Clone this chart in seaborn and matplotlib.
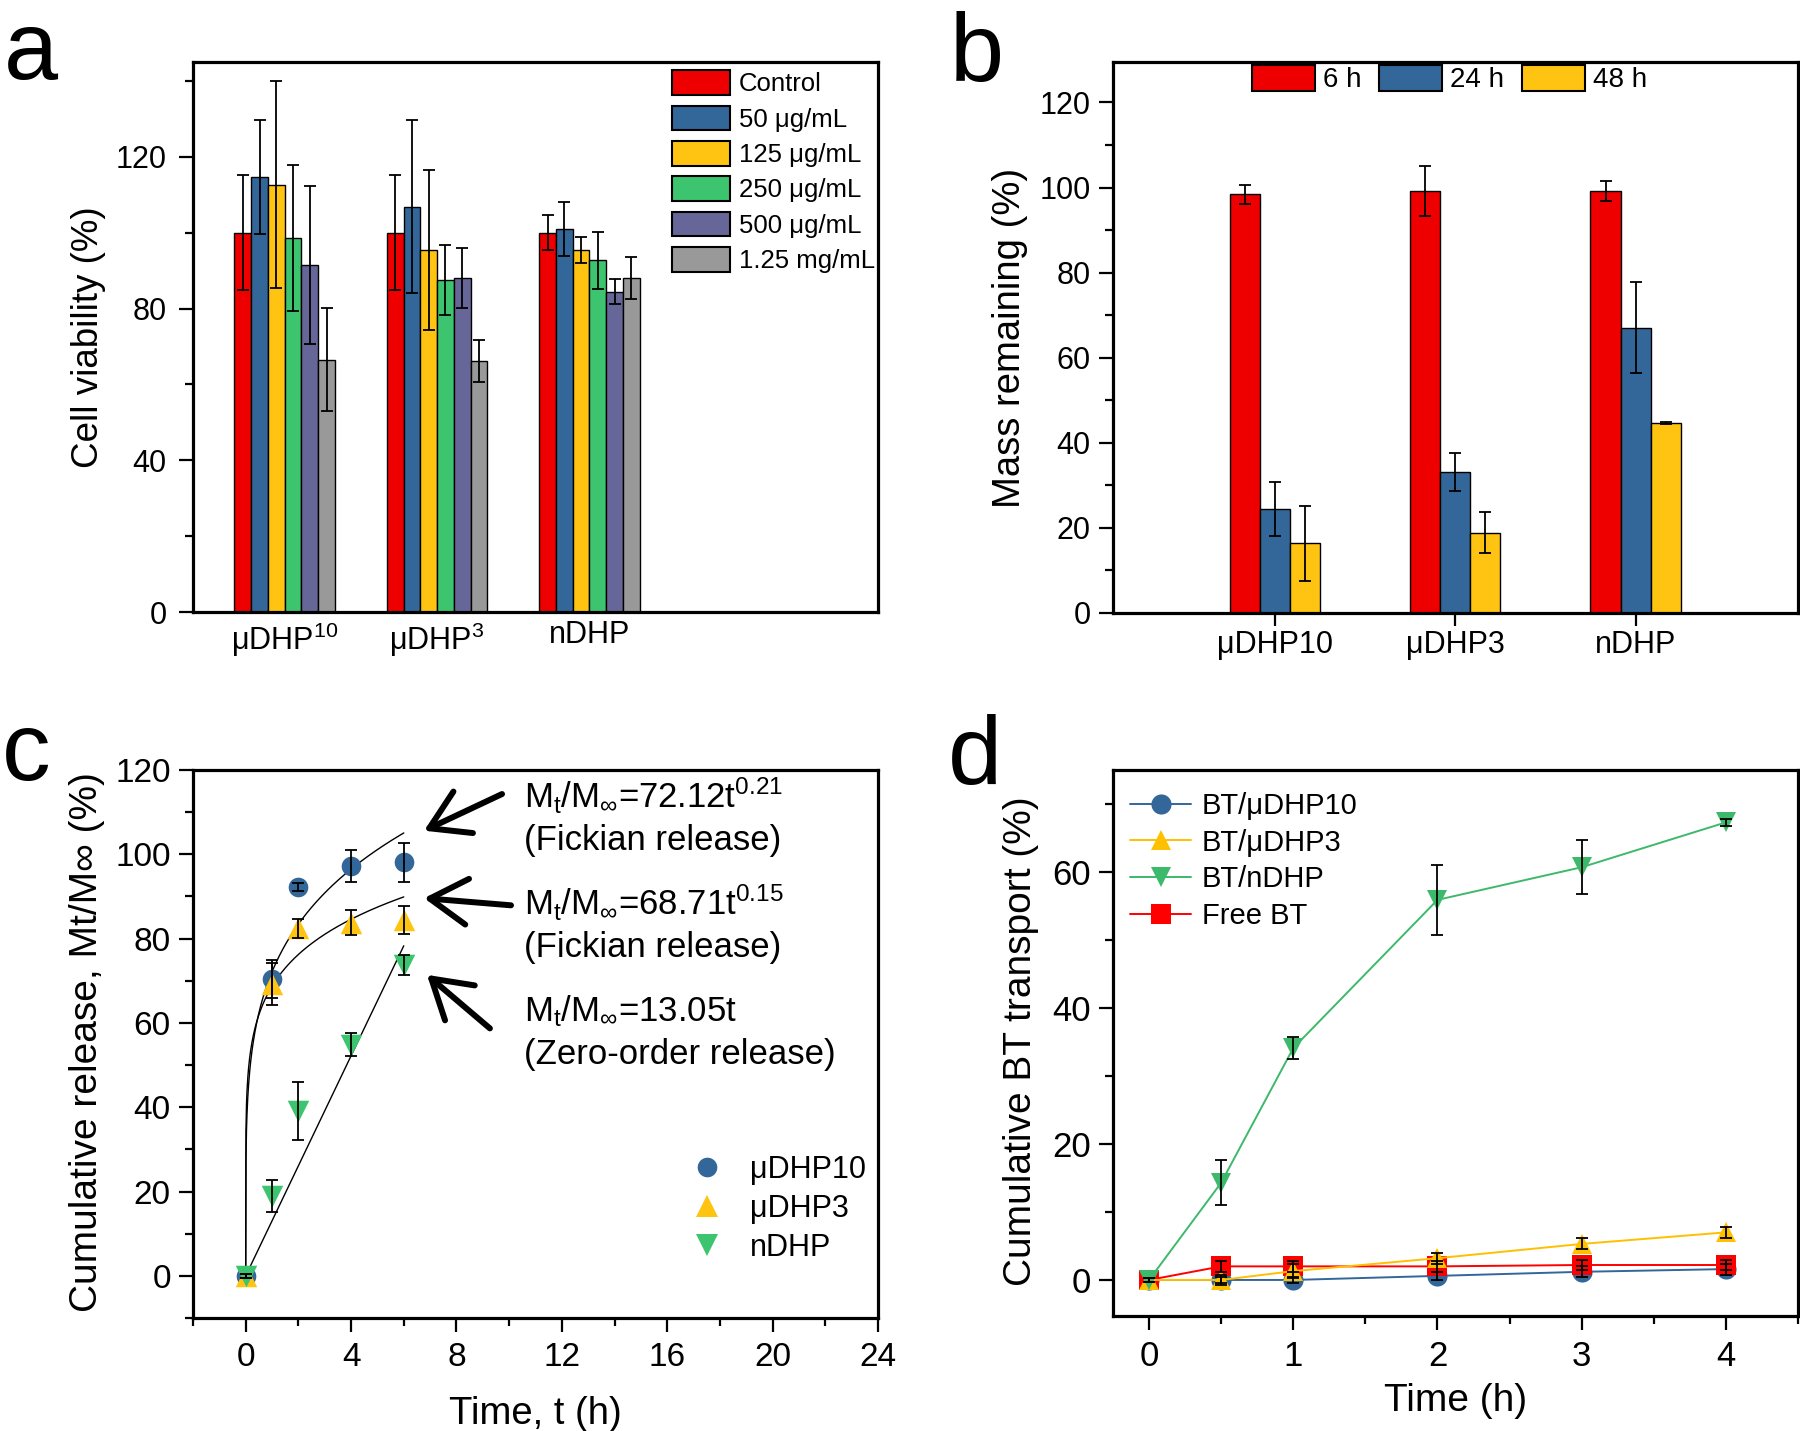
import numpy as np
import pandas as pd
import matplotlib
matplotlib.use('Agg')
import matplotlib.pyplot as plt
import matplotlib.patches as mpatches
from matplotlib.lines import Line2D
from matplotlib.ticker import MultipleLocator
import seaborn as sns

sns.set_theme(style='ticks', rc={'axes.edgecolor': 'black', 'xtick.color': 'black',
                                 'ytick.color': 'black', 'text.color': 'black',
                                 'axes.labelcolor': 'black'})
plt.rcParams['font.family'] = ['Liberation Sans', 'DejaVu Sans']
plt.rcParams['mathtext.fontset'] = 'custom'
plt.rcParams['mathtext.rm'] = 'Liberation Sans'
plt.rcParams['mathtext.it'] = 'Liberation Sans:italic'
plt.rcParams['mathtext.bf'] = 'Liberation Sans:bold'

# ---------------- Panel a data ----------------
a_groups = ['μDHP10', 'μDHP3', 'nDHP']
a_group_labels = ['μDHP$^\\mathregular{10}$', 'μDHP$^\\mathregular{3}$', 'nDHP']
a_conc = ['Control', '50 μg/mL', '125 μg/mL', '250 μg/mL', '500 μg/mL', '1.25 mg/mL']
a_control = [100.0, 100.0, 100.0]
a_control_sd = [15.1, 15.1, 4.6]
a_50 = [114.6, 106.9, 100.9]
a_50_sd = [15.0, 22.7, 7.1]
a_125 = [112.7, 95.4, 95.4]
a_125_sd = [27.3, 21.1, 3.4]
a_250 = [98.6, 87.5, 92.7]
a_250_sd = [19.2, 9.3, 7.5]
a_500 = [91.5, 88.1, 84.4]
a_500_sd = [20.9, 7.9, 3.3]
a_1250 = [66.5, 66.1, 88.0]
a_1250_sd = [13.6, 5.5, 5.5]
a_colors = ['#EE0000', '#336699', '#FFC412', '#3CC46E', '#666699', '#999999']

# ---------------- Panel b data ----------------
b_groups = ['μDHP10', 'μDHP3', 'nDHP']
b_times = ['6 h', '24 h', '48 h']
b_6h = [98.4, 99.2, 99.2]
b_6h_sd = [2.3, 5.9, 2.3]
b_24h = [24.5, 33.2, 67.1]
b_24h_sd = [6.3, 4.5, 10.6]
b_48h = [16.4, 18.9, 44.7]
b_48h_sd = [8.8, 4.9, 0.3]
b_colors = ['#EE0000', '#336699', '#FFC412']

# ---------------- Panel c data ----------------
c_time = [0, 1, 2, 4, 6]
c_udhp10 = [0.0, 70.5, 92.2, 97.2, 98.1]
c_udhp10_sd = [0.5, 4.5, 1.0, 3.8, 4.6]
c_udhp3 = [0.0, 69.2, 82.4, 83.8, 84.4]
c_udhp3_sd = [0.5, 4.9, 2.3, 3.0, 3.3]
c_ndhp = [0.0, 18.9, 39.1, 54.8, 73.8]
c_ndhp_sd = [0.5, 3.8, 6.8, 2.7, 2.4]
# fitted model parameters printed on the chart
fit1_k, fit1_n = 72.12, 0.21
fit2_k, fit2_n = 68.71, 0.15
fit3_k = 13.05

# ---------------- Panel d data ----------------
d_time = [0, 0.5, 1, 2, 3, 4]
d_udhp10 = [0.0, 0.0, 0.0, 0.6, 1.2, 1.6]
d_udhp10_sd = [0.3, 0.5, 0.5, 0.6, 0.8, 0.8]
d_udhp3 = [0.0, 0.0, 1.3, 3.2, 5.3, 7.0]
d_udhp3_sd = [0.3, 0.8, 1.0, 0.8, 0.8, 0.8]
d_ndhp = [0.0, 14.3, 34.1, 55.9, 60.7, 67.3]
d_ndhp_sd = [0.3, 3.3, 1.6, 5.2, 4.0, 0.5]
d_free = [0.0, 2.0, 2.0, 2.0, 2.2, 2.2]
d_free_sd = [0.3, 0.8, 0.8, 0.8, 0.8, 0.8]

W, H = 1800, 1431
fig = plt.figure(figsize=(18, 14.31), dpi=100)


def px_axes(l, t, r, b):
    return fig.add_axes([l / W, 1 - b / H, (r - l) / W, (b - t) / H])


SPW = 2.3


def style_axes(ax):
    for s in ax.spines.values():
        s.set_linewidth(SPW)
        s.set_color('black')
        s.set_visible(True)
    ax.tick_params(which='both', direction='out', top=False, right=False, width=1.6, color='black')
    ax.tick_params(which='major', length=10)
    ax.tick_params(which='minor', length=5.5)
    ax.grid(False)


# ================= Panel a =================
ax = px_axes(193, 62, 878, 612)
a_vals = [a_control, a_50, a_125, a_250, a_500, a_1250]
a_sds = [a_control_sd, a_50_sd, a_125_sd, a_250_sd, a_500_sd, a_1250_sd]
df_a = pd.DataFrame({'group': [g for c in a_conc for g in a_groups],
                     'conc': [c for c in a_conc for g in a_groups],
                     'value': [v for vals in a_vals for v in vals]})
sns.barplot(data=df_a, x='group', y='value', hue='conc', order=a_groups, hue_order=a_conc,
            palette=a_colors, width=0.66, saturation=1, edgecolor='black', linewidth=1.0,
            errorbar=None, legend=False, ax=ax)
for cont, sds in zip(ax.containers, a_sds):
    for bar, sd in zip(cont, sds):
        ax.errorbar(bar.get_x() + bar.get_width() / 2, bar.get_height(), yerr=sd,
                    fmt='none', ecolor='black', elinewidth=1.3, capsize=4, capthick=1.3, zorder=5)
style_axes(ax)
ax.set_xlim(-0.602, 3.894)
ax.set_ylim(0, 145)
ax.yaxis.set_major_locator(MultipleLocator(40))
ax.yaxis.set_minor_locator(MultipleLocator(20))
ax.set_xticks(range(3))
ax.set_xticklabels(a_group_labels, fontsize=22)
ax.tick_params(axis='x', length=0, pad=6)
ax.tick_params(axis='y', labelsize=22, pad=9)
ax.set_xlabel('')
ax.set_ylabel('Cell viability (%)', fontsize=26.5)
ax.yaxis.set_label_coords(-0.152, 0.5)
ax.yaxis.label.set_va('center')
handles = [mpatches.Patch(facecolor=c, edgecolor='black', linewidth=1.5, label=l)
           for c, l in zip(a_colors, a_conc)]
ax.legend(handles=handles, loc='upper left', bbox_to_anchor=(0.699, 0.985), frameon=False,
          fontsize=18.5, handlelength=2.25, handleheight=1.1, labelspacing=0.36,
          handletextpad=0.35, borderpad=0, borderaxespad=0)

# ================= Panel b =================
ax = px_axes(1113, 62, 1798, 613)
b_vals = [b_6h, b_24h, b_48h]
b_sds = [b_6h_sd, b_24h_sd, b_48h_sd]
df_b = pd.DataFrame({'group': [g for t in b_times for g in b_groups],
                     'time': [t for t in b_times for g in b_groups],
                     'value': [v for vals in b_vals for v in vals]})
sns.barplot(data=df_b, x='group', y='value', hue='time', order=b_groups, hue_order=b_times,
            palette=b_colors, width=0.5, saturation=1, edgecolor='black', linewidth=1.0,
            errorbar=None, legend=False, ax=ax)
for cont, sds in zip(ax.containers, b_sds):
    for bar, sd in zip(cont, sds):
        ax.errorbar(bar.get_x() + bar.get_width() / 2, bar.get_height(), yerr=sd,
                    fmt='none', ecolor='black', elinewidth=1.3, capsize=4, capthick=1.3, zorder=5)
style_axes(ax)
ax.set_xlim(-0.896, 2.90)
ax.set_ylim(0, 129.5)
ax.yaxis.set_major_locator(MultipleLocator(20))
ax.yaxis.set_minor_locator(MultipleLocator(10))
ax.set_xticks(range(3))
ax.set_xticklabels(b_groups, fontsize=22)
ax.tick_params(axis='x', which='major', length=9, pad=3)
ax.tick_params(axis='y', labelsize=22, pad=6)
ax.set_xlabel('')
ax.set_ylabel('Mass remaining (%)', fontsize=27.5)
ax.yaxis.set_label_coords(-0.150, 0.5)
ax.yaxis.label.set_va('center')
handles = [mpatches.Patch(facecolor=c, edgecolor='black', linewidth=1.5, label=l)
           for c, l in zip(b_colors, b_times)]
ax.legend(handles=handles, loc='upper left', bbox_to_anchor=(0.203, 0.995), frameon=False,
          ncol=3, fontsize=20, handlelength=2.25, handleheight=1.05, columnspacing=0.65,
          handletextpad=0.3, borderpad=0, borderaxespad=0)

# ================= Panel c =================
ax = px_axes(193, 770, 878, 1318)
c_series = [('μDHP10', c_udhp10, c_udhp10_sd, '#336699', 'o', 200),
            ('μDHP3', c_udhp3, c_udhp3_sd, '#FFC412', '^', 240),
            ('nDHP', c_ndhp, c_ndhp_sd, '#3CC46E', 'v', 240)]
t_fit = np.linspace(0, 6, 600)
sns.lineplot(x=t_fit, y=fit1_k * t_fit ** fit1_n, color='black', linewidth=1.0, ax=ax, zorder=2)
sns.lineplot(x=t_fit, y=fit2_k * t_fit ** fit2_n, color='black', linewidth=1.0, ax=ax, zorder=2)
sns.lineplot(x=t_fit, y=fit3_k * t_fit, color='black', linewidth=1.0, ax=ax, zorder=2)
c_handles = []
for name, vals, sds, col, mk, s in c_series:
    sns.scatterplot(x=c_time, y=vals, color=col, marker=mk, s=s, linewidth=0, ax=ax, zorder=3)
    ax.errorbar(c_time, vals, yerr=sds, fmt='none', ecolor='black', elinewidth=1.3,
                capsize=4.5, capthick=1.3, zorder=4)
    c_handles.append(Line2D([], [], linestyle='none', marker=mk, color=col,
                            markersize=np.sqrt(s), markeredgewidth=0, label=name))
style_axes(ax)
ax.set_xlim(-2, 24)
ax.set_ylim(-10, 120)
ax.xaxis.set_major_locator(MultipleLocator(4))
ax.xaxis.set_minor_locator(MultipleLocator(2))
ax.yaxis.set_major_locator(MultipleLocator(20))
ax.yaxis.set_minor_locator(MultipleLocator(10))
ax.tick_params(axis='both', labelsize=24)
ax.tick_params(axis='x', pad=7)
ax.tick_params(axis='y', pad=6)
ax.set_xlabel('Time, t (h)', fontsize=27.5)
ax.set_ylabel('Cumulative release, Mt/M∞ (%)', fontsize=28)
ax.xaxis.set_label_coords(0.5, -0.176)
ax.xaxis.label.set_va('center')
ax.yaxis.set_label_coords(-0.155, 0.503)
ax.yaxis.label.set_va('center')
ax.legend(handles=c_handles, loc='upper left', bbox_to_anchor=(0.728, 0.298), frameon=False,
          fontsize=22, handlelength=1.0, handletextpad=0.9, labelspacing=0.3,
          borderpad=0, borderaxespad=0)

arrow_kw = dict(arrowstyle='->, head_length=0.9, head_width=0.55', lw=4.3, color='black',
                mutation_scale=30, shrinkA=0, shrinkB=0)
ann = [((9.73, 114.3), (6.77, 105.6), r'M$_\mathregular{t}$/M$_\infty$=72.12t$^\mathregular{0.21}$',
        '(Fickian release)', 111.0, 101.1),
       ((10.07, 87.9), (6.77, 89.6), r'M$_\mathregular{t}$/M$_\infty$=68.71t$^\mathregular{0.15}$',
        '(Fickian release)', 85.6, 75.7),
       ((9.27, 58.7), (6.88, 71.4), r'M$_\mathregular{t}$/M$_\infty$=13.05t',
        '(Zero-order release)', 60.3, 50.3)]
for tail, head, l1, l2, y1, y2 in ann:
    ax.annotate('', xy=head, xytext=tail, arrowprops=arrow_kw)
    ax.text(10.55, y1, l1, fontsize=25, ha='left', va='baseline')
    ax.text(10.55, y2, l2, fontsize=25, ha='left', va='baseline')

# ================= Panel d =================
ax = px_axes(1113, 770, 1798, 1316)
d_series = {'BT/μDHP10': (d_udhp10, d_udhp10_sd, '#336699', 'o'),
            'BT/μDHP3': (d_udhp3, d_udhp3_sd, '#FFC000', '^'),
            'BT/nDHP': (d_ndhp, d_ndhp_sd, '#3CB96A', 'v'),
            'Free BT': (d_free, d_free_sd, '#FF0000', 's')}
draw_order = ['BT/μDHP10', 'Free BT', 'BT/μDHP3', 'BT/nDHP']
for z, name in enumerate(draw_order):
    vals, sds, col, mk = d_series[name]
    sns.lineplot(x=d_time, y=vals, color=col, marker=mk, markersize=14.5, markeredgewidth=0,
                 linewidth=1.4, ax=ax, zorder=3 + z * 0.1)
    ax.errorbar(d_time, vals, yerr=sds, fmt='none', ecolor='black', elinewidth=1.3,
                capsize=4, capthick=1.3, zorder=4 + z * 0.1)
d_handles = [Line2D([], [], color=d_series[n][2], marker=d_series[n][3], markersize=14.5,
                    markeredgewidth=0, linewidth=1.4, label=n) for n in d_series]
style_axes(ax)
ax.set_xlim(-0.25, 4.5)
ax.set_ylim(-5.3, 75)
ax.xaxis.set_major_locator(MultipleLocator(1))
ax.xaxis.set_minor_locator(MultipleLocator(0.5))
ax.yaxis.set_major_locator(MultipleLocator(20))
ax.yaxis.set_minor_locator(MultipleLocator(10))
ax.tick_params(axis='both', labelsize=25)
ax.tick_params(axis='x', pad=7)
ax.tick_params(axis='y', pad=6)
ax.set_xlabel('Time (h)', fontsize=28)
ax.set_ylabel('Cumulative BT transport (%)', fontsize=28)
ax.xaxis.set_label_coords(0.5, -0.155)
ax.xaxis.label.set_va('center')
ax.yaxis.set_label_coords(-0.134, 0.503)
ax.yaxis.label.set_va('center')
ax.legend(handles=d_handles, loc='upper left', bbox_to_anchor=(0.025, 0.960), frameon=False,
          fontsize=21, handlelength=2.1, handletextpad=0.35, labelspacing=0.3,
          borderpad=0, borderaxespad=0)

# ================= panel letters =================
for lx, ly, letter in [(4, 79, 'a'), (950, 81, 'b'), (2, 780, 'c'), (948, 784, 'd')]:
    fig.text(lx / W, 1 - ly / H, letter, fontsize=70, ha='left', va='baseline')

fig.savefig('out.png', dpi=100)
